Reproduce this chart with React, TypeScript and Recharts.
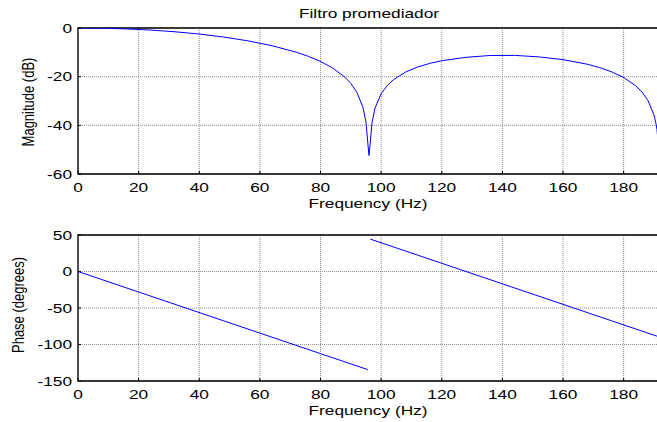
import React from 'react';
import { LineChart, Line, XAxis, YAxis, CartesianGrid, ReferenceArea } from 'recharts';

// frequency axis shared by both plots
const freqTicks = [0, 20, 40, 60, 80, 100, 120, 140, 160, 180];
const magTicks = [-60, -40, -20, 0];
const phaseTicks = [-150, -100, -50, 0, 50];

// magnitude response (dB)
const magFreq = [0, 4, 8, 16, 24, 32, 40, 48, 56, 64, 72, 76, 80, 84, 88, 90, 92, 94, 95, 95.6, 96, 96.4, 97, 98, 100, 102, 104, 108, 112, 116, 120, 128, 136, 144, 152, 160, 168, 172, 176, 180, 184, 186, 188, 190, 190.5, 191, 191.6];
const magDb = [0, -0.02, -0.09, -0.38, -0.86, -1.55, -2.48, -3.7, -5.26, -7.27, -9.95, -11.66, -13.75, -16.43, -20.16, -22.78, -26.42, -32.57, -38.66, -47.2, -52.4, -47.2, -38.81, -32.86, -26.99, -23.63, -21.3, -18.15, -16.05, -14.55, -13.45, -12.04, -11.3, -11.25, -11.87, -12.99, -14.88, -16.24, -17.99, -20.34, -23.76, -26.23, -29.72, -35.73, -38.2, -41.7, -50.3];

// phase response (degrees), two branches either side of the jump at 96 Hz
const phaseLowFreq = [0, 16, 32, 48, 64, 80, 95.6];
const phaseLowDeg = [0, -22.5, -45, -67.5, -90, -112.5, -134.4];
const phaseHighFreq = [96.4, 112, 128, 144, 160, 176, 192];
const phaseHighDeg = [44.4, 22.5, 0, -22.5, -45, -67.5, -90];

const magData = magFreq.map((f, i) => ({ f, db: magDb[i] }));
const phaseData = [
  ...phaseLowFreq.map((f, i) => ({ f, low: phaseLowDeg[i], high: null as number | null })),
  ...phaseHighFreq.map((f, i) => ({ f, low: null as number | null, high: phaseHighDeg[i] })),
];

const FONT = 'Arial, "Liberation Sans", sans-serif';
const SX = 1.33; // the picture's text is stretched sideways
const BLUE = '#0000ff';
const GRID = '#8f8f8f';

const XTick = ({ x, y, payload }: any) => (
  <text
    transform={`translate(${x},${y + 17.5}) scale(${SX},1)`}
    textAnchor="middle"
    fontFamily={FONT}
    fontSize={13}
    fill="#000"
  >
    {payload.value}
  </text>
);

const YTick = ({ x, y, payload }: any) => (
  <text
    transform={`translate(${x - 6},${y + 4.5}) scale(${SX},1)`}
    textAnchor="end"
    fontFamily={FONT}
    fontSize={13}
    fill="#000"
  >
    {payload.value}
  </text>
);

const tickLine = { stroke: '#000', strokeWidth: 1 };

const W = 663;

const App: React.FC = () => {
  return (
    <div style={{ position: 'fixed', left: 0, top: 0, width: 657, height: 422, overflow: 'hidden', background: '#fff' }}>
      <div style={{ position: 'absolute', left: 0, top: 0 }}>
        <LineChart width={W} height={215} data={magData} margin={{ top: 28, right: 3, left: 0, bottom: 0 }}>
          <CartesianGrid stroke={GRID} strokeDasharray="1 1" />
          <XAxis dataKey="f" type="number" domain={[0, 192]} ticks={freqTicks} height={41} stroke="#000"
            axisLine={false} tickLine={tickLine} tickSize={-3} tickMargin={3} tick={<XTick />} allowDataOverflow />
          <YAxis type="number" domain={[-60, 0]} ticks={magTicks} width={78} stroke="#000"
            axisLine={false} tickLine={tickLine} tickSize={-3} tickMargin={3} tick={<YTick />} allowDataOverflow />
          <Line dataKey="db" stroke={BLUE} strokeWidth={1} dot={false} isAnimationActive={false} />
          <ReferenceArea x1={0} x2={192} y1={-60} y2={0} fill="none" stroke="#000" strokeWidth={1.3} fillOpacity={0} ifOverflow="visible" />
        </LineChart>
      </div>
      <div style={{ position: 'absolute', left: 0, top: 215 }}>
        <LineChart width={W} height={207} data={phaseData} margin={{ top: 20, right: 3, left: 0, bottom: 0 }}>
          <CartesianGrid stroke={GRID} strokeDasharray="1 1" />
          <XAxis dataKey="f" type="number" domain={[0, 192]} ticks={freqTicks} height={41} stroke="#000"
            axisLine={false} tickLine={tickLine} tickSize={-3} tickMargin={3} tick={<XTick />} allowDataOverflow />
          <YAxis type="number" domain={[-150, 50]} ticks={phaseTicks} width={78} stroke="#000"
            axisLine={false} tickLine={tickLine} tickSize={-3} tickMargin={3} tick={<YTick />} allowDataOverflow />
          <Line dataKey="low" stroke={BLUE} strokeWidth={1} dot={false} connectNulls={false} isAnimationActive={false} />
          <Line dataKey="high" stroke={BLUE} strokeWidth={1} dot={false} connectNulls={false} isAnimationActive={false} />
          <ReferenceArea x1={0} x2={192} y1={-150} y2={50} fill="none" stroke="#000" strokeWidth={1.3} fillOpacity={0} ifOverflow="visible" />
        </LineChart>
      </div>
      <svg width={657} height={422} style={{ position: 'absolute', left: 0, top: 0, pointerEvents: 'none' }}>
        <g fontFamily={FONT} fontSize={13} fill="#000">
          <text transform={`translate(369,18) scale(${SX},1)`} textAnchor="middle">Filtro promediador</text>
          <text transform={`translate(368,208) scale(${SX},1)`} textAnchor="middle">Frequency (Hz)</text>
          <text transform={`translate(368,415) scale(${SX},1)`} textAnchor="middle">Frequency (Hz)</text>
          <text transform={`translate(33.5,102) scale(${SX},1) rotate(-90)`} textAnchor="middle">Magnitude (dB)</text>
          <text transform={`translate(23.5,305) scale(${SX},1) rotate(-90)`} textAnchor="middle">Phase (degrees)</text>
        </g>
      </svg>
    </div>
  );
};

export default App;
